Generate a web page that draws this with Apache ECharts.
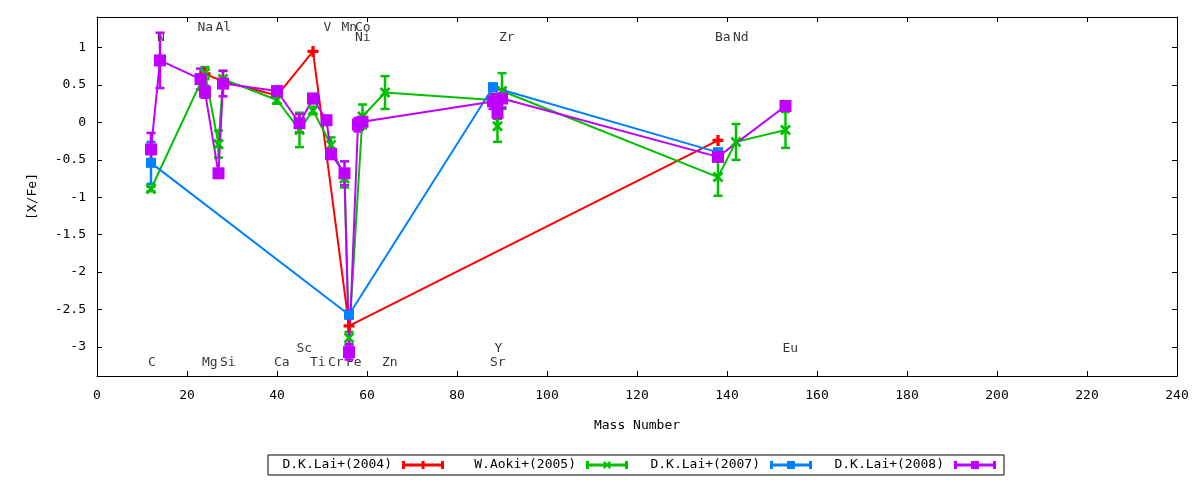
<!DOCTYPE html>
<html>
<head>
<meta charset="utf-8">
<script src="https://cdn.jsdelivr.net/npm/echarts@6/dist/echarts.min.js"></script>
<style>
html,body{margin:0;padding:0;background:#fff;}
#chart{width:1200px;height:480px;}
</style>
</head>
<body>
<div id="chart"></div>
<script>
// ---------------- data ----------------
const seriesNames = ['D.K.Lai+(2004)', 'W.Aoki+(2005)', 'D.K.Lai+(2007)', 'D.K.Lai+(2008)'];

const lai2004Mass  = [24, 28, 40, 48, 56, 138];
const lai2004Value = [0.65, 0.55, 0.36, 0.95, -2.72, -0.24];
const lai2004Err   = [0, 0, 0, 0, 0, 0];

const aoki2005Mass  = [12, 24, 27, 28, 40, 45, 48, 52, 55, 56, 59, 64, 88, 89, 90, 138, 142, 153];
const aoki2005Value = [-0.89, 0.66, -0.29, 0.58, 0.30, -0.10, 0.16, -0.30, -0.75, -2.88, 0.08, 0.40, 0.30, -0.05, 0.42, -0.73, -0.26, -0.10];
const aoki2005Err   = [0.03, 0.08, 0.18, 0.11, 0.05, 0.23, 0.05, 0.10, 0.12, 0.08, 0.16, 0.22, 0.05, 0.21, 0.24, 0.25, 0.24, 0.24];

const lai2007Mass  = [12, 56, 88, 138];
const lai2007Value = [-0.54, -2.57, 0.47, -0.40];
const lai2007Err   = [0.28, 0.05, 0.05, 0.05];

const lai2008Mass  = [12, 14, 23, 24, 27, 28, 40, 45, 48, 51, 52, 55, 56, 58, 59, 88, 89, 90, 138, 153];
const lai2008Value = [-0.36, 0.83, 0.58, 0.41, -0.68, 0.52, 0.42, -0.01, 0.32, 0.03, -0.42, -0.68, -3.07, -0.03, 0.01, 0.28, 0.13, 0.32, -0.46, 0.22];
const lai2008Err   = [0.22, 0.37, 0.14, 0.08, 0.05, 0.17, 0.05, 0.12, 0.06, 0.05, 0.07, 0.16, 0.10, 0.09, 0.05, 0.10, 0.08, 0.12, 0.06, 0.03];

// element labels
const elemNames = ['C','N','Na','Mg','Al','Si','Ca','Sc','Ti','V','Cr','Mn','Fe','Co','Ni','Zn','Sr','Y','Zr','Ba','Nd','Eu'];
const elemMass  = [12, 14, 23, 24, 27, 28, 40, 45, 48, 51, 52, 55, 56, 58, 58, 64, 88, 89, 90, 138, 142, 153];
const elemRow   = ['b2','t2','t1','b2','t1','b2','b2','b1','b2','t1','b2','t1','b2','t1','t2','b2','b2','b1','t2','t2','t2','b1'];
const rowValue  = { t1: 1.27, t2: 1.13, b1: -3.03, b2: -3.21 };

// axis ticks
const xTicks = [0, 20, 40, 60, 80, 100, 120, 140, 160, 180, 200, 220, 240];
const yTicks = [-3, -2.5, -2, -1.5, -1, -0.5, 0, 0.5, 1];

// ---------------- styling ----------------
const FONT = "'DejaVu Sans Mono', monospace";
const colors = ['#ff0000', '#00c000', '#0080ff', '#c000ff'];
const markers = [
  'path://M3.5,0H6.5V10H3.5Z M0,3.5H10V6.5H0Z',
  'path://M0,1.8L1.8,0L10,8.2L8.2,10Z M8.2,0L10,1.8L1.8,10L0,8.2Z',
  'rect',
  'rect'
];
const markerSizes = [11, 11, 10, 12];
const legendIcons = [
  'path://M0,0H3V8H0Z M39,0H42V8H39Z M0,2.5H42V5.5H0Z M19.5,0H22.5V8H19.5Z',
  'path://M0,0H3V8H0Z M39,0H42V8H39Z M0,2.5H42V5.5H0Z M17,1.4L18.4,0L25,6.6L23.6,8Z M23.6,0L25,1.4L18.4,8L17,6.6Z',
  'path://M0,0H3V8H0Z M39,0H42V8H39Z M0,2.5H42V5.5H0Z M17,0H25V8H17Z',
  'path://M0,0H3V8H0Z M39,0H42V8H39Z M0,2.5H42V5.5H0Z M17,0H25V8H17Z'
];

const datasets = [
  [lai2004Mass, lai2004Value, lai2004Err],
  [aoki2005Mass, aoki2005Value, aoki2005Err],
  [lai2007Mass, lai2007Value, lai2007Err],
  [lai2008Mass, lai2008Value, lai2008Err]
];

function errRender(params, api) {
  const x = api.value(0), y = api.value(1), e = api.value(2);
  if (!e) return null;
  const top = api.coord([x, y + e]);
  const bot = api.coord([x, y - e]);
  const c = api.visual('color');
  const w = 4.5;
  const st = { stroke: c, lineWidth: 2.5 };
  return {
    type: 'group',
    children: [
      { type: 'line', shape: { x1: top[0], y1: top[1], x2: bot[0], y2: bot[1] }, style: st },
      { type: 'line', shape: { x1: top[0] - w, y1: top[1], x2: top[0] + w, y2: top[1] }, style: st },
      { type: 'line', shape: { x1: bot[0] - w, y1: bot[1], x2: bot[0] + w, y2: bot[1] }, style: st }
    ]
  };
}

const series = [];
datasets.forEach(function (ds, i) {
  const pts = ds[0].map(function (m, k) { return [m, ds[1][k], ds[2][k]]; });
  series.push({
    name: seriesNames[i],
    type: 'custom',
    renderItem: errRender,
    data: pts,
    encode: { x: 0, y: 1 },
    itemStyle: { color: colors[i] },
    silent: true,
    z: 2
  });
  series.push({
    name: seriesNames[i],
    type: 'line',
    data: pts.map(function (p) { return [p[0], p[1]]; }),
    symbol: markers[i],
    symbolSize: markerSizes[i],
    showAllSymbol: true,
    lineStyle: { color: colors[i], width: 2 },
    itemStyle: { color: colors[i], borderWidth: 0 },
    silent: true,
    z: 2
  });
});

series.push({
  type: 'scatter',
  silent: true,
  symbolSize: 1,
  itemStyle: { color: 'rgba(0,0,0,0)' },
  data: elemNames.map(function (n, i) { return [elemMass[i], rowValue[elemRow[i]], n]; }),
  label: {
    show: true,
    position: 'inside',
    align: 'left',
    verticalAlign: 'middle',
    offset: [-3, 0],
    formatter: function (p) { return p.data[2]; },
    color: '#000',
    fontSize: 13,
    fontFamily: FONT
  },
  z: 1
});

const axisCommonX = {
  type: 'value', min: 0, max: 240, interval: 20,
  axisLine: { show: true, onZero: false, lineStyle: { color: '#000', width: 1 } },
  axisTick: { show: true, inside: true, length: 5, lineStyle: { color: '#000' } },
  splitLine: { show: false }
};
const axisCommonY = {
  type: 'value', min: -3.39, max: 1.41,
  axisLine: { show: true, onZero: false, lineStyle: { color: '#000', width: 1 } },
  axisTick: { show: true, inside: true, length: 5, customValues: yTicks, lineStyle: { color: '#000' } },
  splitLine: { show: false }
};

const option = {
  animation: false,
  backgroundColor: '#fff',
  color: colors,
  grid: { left: 97, right: 23, top: 17, bottom: 104, containLabel: false, outerBoundsMode: 'none' },
  xAxis: [
    Object.assign({}, axisCommonX, {
      position: 'bottom',
      name: 'Mass Number',
      nameLocation: 'middle',
      nameGap: 43,
      nameTextStyle: { color: '#000', fontSize: 13, fontFamily: FONT },
      axisLabel: { show: true, margin: 13, color: '#000', fontSize: 13, fontFamily: FONT,
        showMinLabel: true, showMaxLabel: true, customValues: xTicks }
    }),
    Object.assign({}, axisCommonX, { position: 'top', axisLabel: { show: false } })
  ],
  yAxis: [
    Object.assign({}, axisCommonY, {
      position: 'left',
      name: '[X/Fe]',
      nameLocation: 'middle',
      nameGap: 58,
      nameRotate: 90,
      nameTextStyle: { color: '#000', fontSize: 13, fontFamily: FONT },
      axisLabel: { show: true, margin: 11, color: '#000', fontSize: 13, fontFamily: FONT, customValues: yTicks }
    }),
    Object.assign({}, axisCommonY, { position: 'right', axisLabel: { show: false } })
  ],
  legend: {
    left: 268,
    top: 455,
    orient: 'horizontal',
    align: 'right',
    itemWidth: 42,
    itemHeight: 8,
    itemGap: 17,
    padding: [3, 8, 3, 9],
    borderColor: '#000',
    borderWidth: 1,
    borderRadius: 0,
    selectedMode: false,
    textStyle: { color: '#000', fontSize: 13, fontFamily: FONT, width: 115, align: 'right', lineHeight: 14, padding: [0, 5, 0, 0] },
    data: seriesNames.map(function (n, i) { return { name: n, icon: legendIcons[i] }; })
  },
  series: series
};

const chart = echarts.init(document.getElementById('chart'), null, { renderer: 'canvas' });
chart.setOption(option);
</script>
</body>
</html>
